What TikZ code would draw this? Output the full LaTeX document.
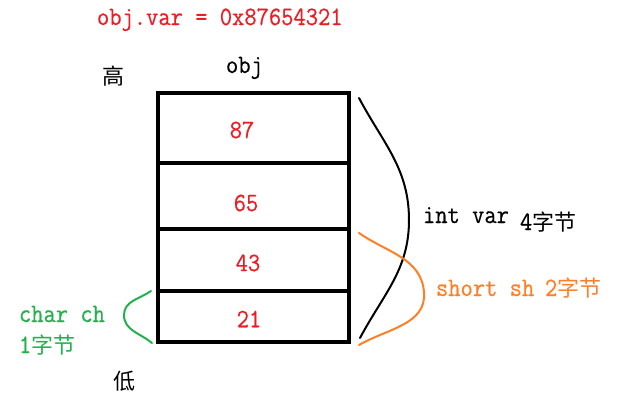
\documentclass[tikz,border=0pt]{standalone}
\usepackage{fontspec}
\setmonofont{Latin Modern Mono}[FakeStretch=0.9,FakeBold=0.5]
\newfontfamily\cjk{Noto Sans CJK SC}
\usetikzlibrary{positioning}
\definecolor{memred}{RGB}{237,28,36}
\definecolor{memorange}{RGB}{255,127,39}
\definecolor{memgreen}{RGB}{34,177,76}
\newcommand{\zhtxt}[1]{{\fontsize{22}{26}\selectfont\cjk #1}}

\begin{document}
\begin{tikzpicture}[x=1pt,y=-1pt,
    every node/.style={inner sep=0pt,outer sep=0pt},
    tt/.style={font=\fontsize{26.5}{30}\selectfont\ttfamily},
    byte/.style={tt,text=memred},
    brace/.style={line width=2pt,line cap=round}]

    \useasboundingbox (0,0) rectangle (622,408);

    % memory block
    \coordinate (tl) at (158,93);
    \coordinate (br) at (349,342);
    \draw[line width=4.5pt] (tl) rectangle (br);
    \draw[line width=4.5pt] (158,163) -- (349,163);
    \draw[line width=4.5pt] (158,229) -- (349,229);
    \draw[line width=4.5pt] (158,291) -- (349,291);

    \node[byte] (b87) at (242,130) {87};
    \node[byte] (b65) at (246,203) {65};
    \node[byte] (b43) at (248,263) {43};
    \node[byte] (b21) at (249,319) {21};

    \node[tt,text=memred,anchor=base west] (title) at (97,25) {obj.var = 0x87654321};
    \node[tt,anchor=base west] (objlbl) at (226,73) {obj};
    \node[font=\fontsize{22}{26}\selectfont\cjk] (high) at (113,76) {高};
    \node[font=\fontsize{22}{26}\selectfont\cjk] (low) at (124,381) {低};

    % int var
    \coordinate (i1) at (359,98);
    \coordinate (i2) at (409,220);
    \coordinate (i3) at (360,338);
    \draw[brace] (i1) to[out=-62,in=90] (i2) to[out=-90,in=62] (i3);
    \node[tt,anchor=base west] (intlbl) at (423,223) {int var};
    \node[tt,anchor=base west] (intsize) at (520,230) {4\zhtxt{字节}};

    % short sh
    \coordinate (s1) at (359,233);
    \coordinate (s2) at (424,292);
    \coordinate (s3) at (359,345);
    \draw[brace,memorange] (s1) to[out=-35,in=95] (s2) to[out=-85,in=30] (s3);
    \node[tt,text=memorange,anchor=base west] (shortlbl) at (436,296) {short sh};
    \node[tt,text=memorange,anchor=base west] (shortsize) at (545,296) {2\zhtxt{字节}};

    % char ch
    \coordinate (c1) at (151,291);
    \coordinate (c2) at (124,315);
    \coordinate (c3) at (152,343);
    \draw[brace,memgreen] (c1) to[out=-145,in=90] (c2) to[out=-90,in=140] (c3);
    \node[tt,text=memgreen,anchor=base west] (charlbl) at (19,322) {char ch};
    \node[tt,text=memgreen,anchor=base west] (charsize) at (19,353) {1\zhtxt{字节}};

\end{tikzpicture}
\end{document}
